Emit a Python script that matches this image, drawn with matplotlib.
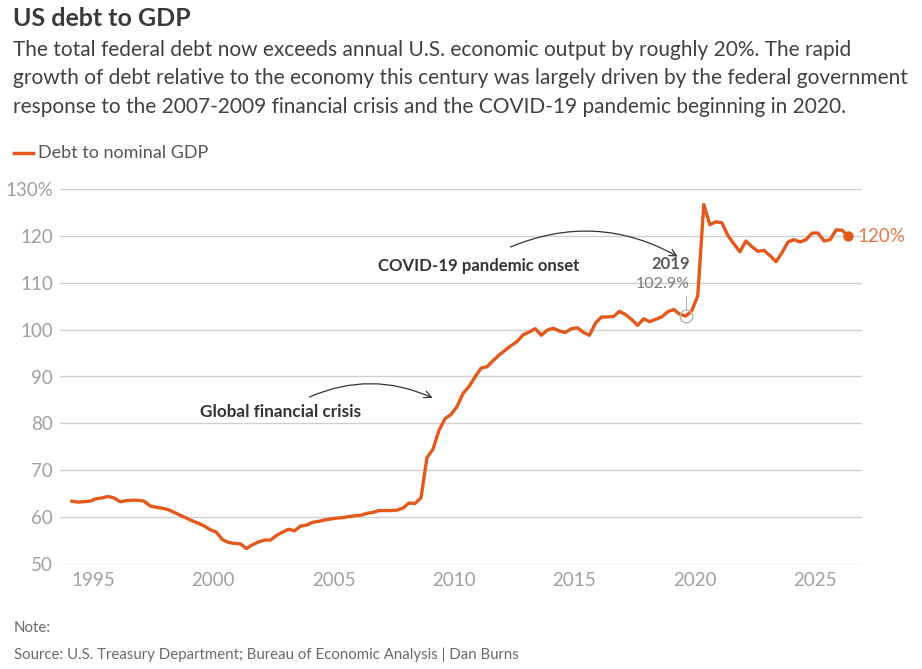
import numpy as np
import matplotlib
matplotlib.use("Agg")
import matplotlib.pyplot as plt
from matplotlib.lines import Line2D

# quarterly debt to nominal GDP, 1994 Q1 onwards (%)
debt_gdp = [
    63.4, 63.2, 63.3, 63.4, 63.9, 64.1, 64.4, 64.1, 63.3, 63.5,
    63.6, 63.6, 63.4, 62.4, 62.1, 61.9, 61.6, 61.0, 60.4, 59.8,
    59.2, 58.7, 58.1, 57.3, 56.8, 55.2, 54.6, 54.4, 54.3, 53.3,
    54.1, 54.7, 55.1, 55.1, 56.1, 56.8, 57.4, 57.1, 58.1, 58.3,
    58.9, 59.1, 59.4, 59.6, 59.8, 59.9, 60.1, 60.3, 60.4, 60.8,
    61.0, 61.4, 61.4, 61.4, 61.5, 61.9, 63.0, 62.9, 64.1, 72.7,
    74.5, 78.5, 81.0, 81.9, 83.6, 86.4, 87.9, 89.9, 91.8, 92.1,
    93.4, 94.6, 95.6, 96.6, 97.5, 98.9, 99.5, 100.2, 98.8, 99.9,
    100.3, 99.7, 99.4, 100.2, 100.4, 99.4, 98.8, 101.4, 102.7, 102.7,
    102.8, 103.9, 103.2, 102.2, 100.9, 102.3, 101.7, 102.2, 102.7, 103.8,
    104.3, 103.3, 102.9, 104.0, 107.2, 126.7, 122.4, 123.0, 122.8, 120.1,
    118.3, 116.6, 118.9, 117.7, 116.7, 116.9, 115.8, 114.5, 116.4, 118.7,
    119.2, 118.7, 119.2, 120.6, 120.6, 118.9, 119.2, 121.3, 121.2, 119.9,
]
start_year = 1994
highlight_idx = 102  # 2019 Q3 marker
yticks = [50, 60, 70, 80, 90, 100, 110, 120, 130]
ytick_labels = ["50", "60", "70", "80", "90", "100", "110", "120", "130%"]
xticks = [1995, 2000, 2005, 2010, 2015, 2020, 2025]

ORANGE = "#e2591b"
W, H = 922, 669

# mid-quarter positions
years = start_year + 0.125 + 0.25 * np.arange(len(debt_gdp))

plt.rcParams["font.family"] = ["Lato", "DejaVu Sans"]

fig = plt.figure(figsize=(W / 100, H / 100), dpi=100)
fig.patch.set_facecolor("white")


def fx(px):
    return px / W


def fy(py):
    return 1 - py / H


ax = fig.add_axes([fx(60), fy(564), fx(862) - fx(60), fy(189) - fy(564)])
ax.set_xlim(1995 + (60 - 93) / 24.07, 1995 + (862 - 93) / 24.07)
ax.set_ylim(50, 130)

for s in ax.spines.values():
    s.set_visible(False)
ax.set_yticks(yticks)
ax.set_yticklabels(ytick_labels)
ax.set_xticks(xticks)
ax.tick_params(axis="both", length=0, labelcolor="#a0a0a0", labelsize=13.5)
ax.tick_params(axis="y", pad=5)
ax.tick_params(axis="x", pad=6)
ax.yaxis.grid(True, color="#cfcfcf", lw=1)
ax.set_axisbelow(True)

# main line
ax.plot(years, debt_gdp, color=ORANGE, lw=2.4, solid_joinstyle="round", zorder=3)
ax.plot(years[-1], debt_gdp[-1], "o", color=ORANGE, ms=6.5, zorder=4, clip_on=False)
ax.annotate("120%", (years[-1], debt_gdp[-1]), xytext=(7, 0),
            textcoords="offset points", va="center", ha="left",
            color="#e4794a", fontsize=13.5, annotation_clip=False)

# 2019 highlight
hx, hy = years[highlight_idx], debt_gdp[highlight_idx]
ax.plot(hx, hy, "o", mfc="none", mec="#b5b5b5", ms=9, mew=1, zorder=5)
ax.plot([hx, hx], [hy + 1.3, hy + 4.2], color="#b5b5b5", lw=0.8, zorder=5)
ax.annotate("102.9%", (hx, hy), xytext=(3, 18), textcoords="offset points",
            ha="right", va="bottom", color="#7a7a7a", fontsize=11.5)
ax.annotate("2019", (hx, hy), xytext=(3, 32), textcoords="offset points",
            ha="right", va="bottom", color="#5a5a5a", fontsize=12, fontweight="bold")

# event notes
ax.text(2002.81, 82.45, "Global financial crisis", ha="center", va="center",
        fontsize=12.3, fontweight="bold", color="#333333")
ax.annotate("", xy=(2009.21, 85.2), xytext=(2003.89, 85.4),
            arrowprops=dict(arrowstyle="->,head_length=0.5,head_width=0.25",
                            connectionstyle="arc3,rad=-0.23", color="#333333", lw=0.9))
ax.text(2011.02, 113.6, "COVID-19 pandemic onset", ha="center", va="center",
        fontsize=12.1, fontweight="bold", color="#333333")
ax.annotate("", xy=(2019.39, 115.3), xytext=(2012.24, 117.4),
            arrowprops=dict(arrowstyle="->,head_length=0.5,head_width=0.25",
                            connectionstyle="arc3,rad=-0.25", color="#333333", lw=0.9))

# header
fig.text(fx(13), fy(18), "US debt to GDP", ha="left", va="center",
         fontsize=18, fontweight="bold", color="#3a3a3a")
subtitle = ("The total federal debt now exceeds annual U.S. economic output by roughly 20%. The rapid\n"
            "growth of debt relative to the economy this century was largely driven by the federal government\n"
            "response to the 2007-2009 financial crisis and the COVID-19 pandemic beginning in 2020.")
fig.text(fx(13), fy(40), subtitle, ha="left", va="top", fontsize=15,
         color="#404040", linespacing=1.52)

# legend
fig.add_artist(Line2D([fx(14), fx(33)], [fy(153), fy(153)], color=ORANGE, lw=2.5))
fig.text(fx(38), fy(153), "Debt to nominal GDP", ha="left", va="center",
         fontsize=13, color="#555555")

# footer
fig.text(fx(14), fy(628), "Note:", ha="left", va="center", fontsize=10.8, color="#6a6a6a")
fig.text(fx(14), fy(655), "Source: U.S. Treasury Department; Bureau of Economic Analysis | Dan Burns",
         ha="left", va="center", fontsize=10.8, color="#6a6a6a")

fig.savefig("out.png", dpi=100, facecolor="white")
